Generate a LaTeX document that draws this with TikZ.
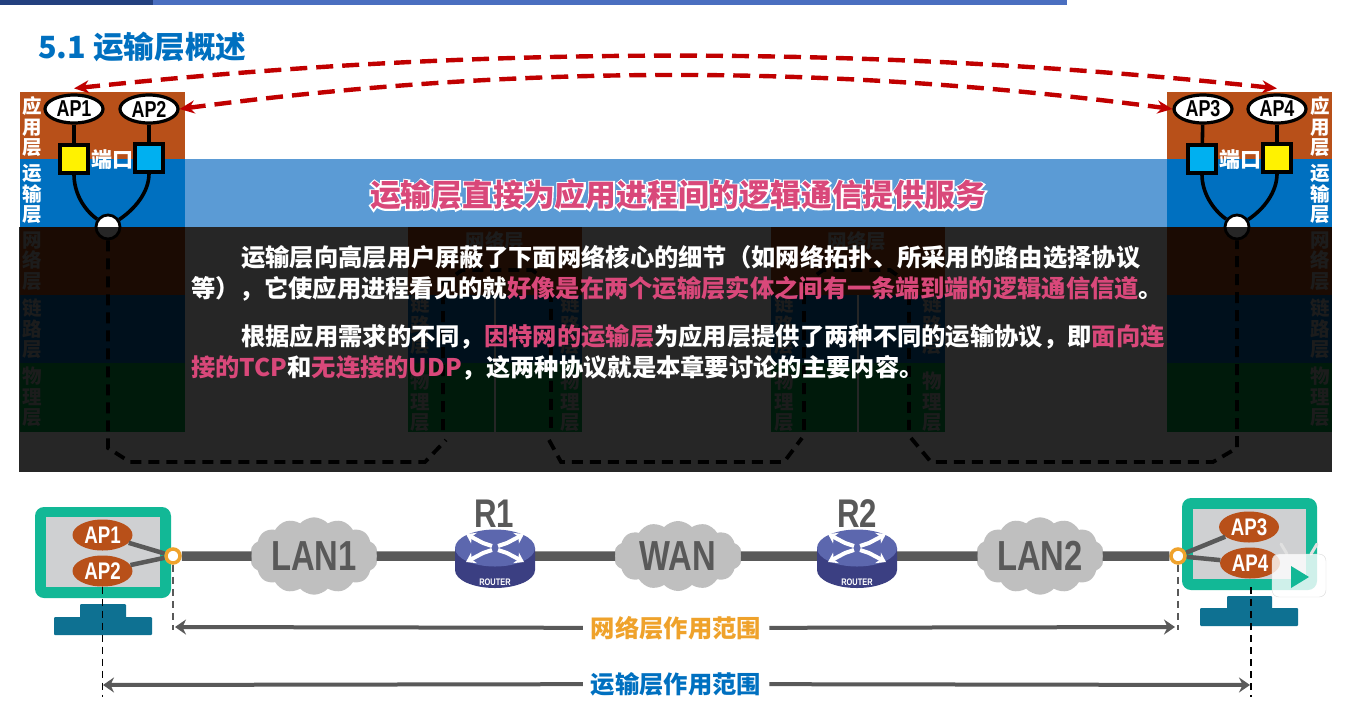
\documentclass[tikz,border=0pt]{standalone}
\usepackage{fontspec}
\usepackage{xcolor}
\usetikzlibrary{arrows.meta,shapes.geometric,shapes.symbols}
\setmainfont{Noto Sans CJK SC}
\newfontfamily\narrowfont[FakeStretch=0.78]{Liberation Sans}
\definecolor{appbrown}{HTML}{B85019}
\definecolor{transblue}{HTML}{0070C0}
\definecolor{bandblue}{HTML}{5B9BD5}
\definecolor{physgreen}{HTML}{00B050}
\definecolor{lightblue}{HTML}{00B0F0}
\definecolor{keypink}{HTML}{D9487A}
\definecolor{dashred}{HTML}{C00000}
\definecolor{hostgreen}{HTML}{12B896}
\definecolor{screengrey}{HTML}{CFD0D2}
\definecolor{standblue}{HTML}{0E7192}
\definecolor{linegrey}{HTML}{595959}
\definecolor{cloudgrey}{HTML}{BFBFBF}
\definecolor{rtop}{HTML}{5C67AE}
\definecolor{rside}{HTML}{3B3F82}
\definecolor{scopeorange}{HTML}{EFA22B}
\definecolor{bardark}{HTML}{23407F}
\definecolor{barblue}{HTML}{4A6FC0}
\newcommand\txtsize[2]{\fontsize{#1}{#2}\selectfont}
\newcommand\halotext[1]{\rlap{\special{pdf:code 1 Tr 3 w 1 1 1 RG}#1\special{pdf:code 0 Tr}}#1}

\begin{document}
\begin{tikzpicture}[x=1pt, y=-1pt, >=stealth,
  stacklabel/.style={text=white, align=center, inner sep=0, font=\bfseries\txtsize{19.5}{20.5}},
  dimlabel/.style={stacklabel, text=white!75!black},
  apnode/.style={draw, ellipse, fill=white, line width=3.2pt, minimum width=58, minimum height=28, inner sep=0, font=\narrowfont\bfseries\txtsize{23}{23}},
  portbox/.style={draw, line width=3.2pt, minimum size=28, inner sep=0},
  hubnode/.style={draw, circle, fill=white, line width=2.8pt, minimum size=24, inner sep=0},
  wire/.style={line width=3.6pt},
  pathdash/.style={line width=3.8pt, dash pattern=on 11pt off 7pt},
  reddash/.style={dashred, line width=4.4pt, dash pattern=on 17pt off 9pt, {Stealth[length=15pt,width=13pt]}-{Stealth[length=15pt,width=13pt]}},
  hostap/.style={ellipse, fill=appbrown, text=white, minimum width=60, minimum height=31, inner sep=0, font=\narrowfont\bfseries\txtsize{24}{24}},
  portdot/.style={draw=scopeorange, circle, fill=white, line width=3.5pt, minimum size=14, inner sep=0},
  netcloud/.style={cloud, cloud puffs=14, cloud puff arc=95, aspect=1.8, fill=cloudgrey, text=linegrey, minimum width=128, minimum height=70, inner sep=0, font=\narrowfont\bfseries\txtsize{42}{42}},
  routerlabel/.style={text=linegrey, inner sep=0, font=\narrowfont\bfseries\txtsize{40}{40}},
  routerslot/.style={minimum width=80, minimum height=30, inner sep=0},
  backbone/.style={linegrey, line width=9.5pt},
  aplink/.style={linegrey, line width=4.5pt},
  scopeline/.style={linegrey, line width=4pt, -{Stealth[length=11pt,width=15pt]}},
  scopelabel/.style={inner sep=8pt, font=\bfseries\txtsize{24.3}{24.3}},
  rangedash/.style={line width=1.8pt, dash pattern=on 7pt off 5pt},
  bodytext/.style={text=white, align=left, inner sep=0, font=\bfseries\txtsize{24.3}{31}},
  routerpic/.pic={
    \fill[rside] (-40,-8) -- (-40,14) arc[start angle=180, end angle=360, x radius=40pt, y radius=18pt] -- (40,-8) -- cycle;
    \fill[rtop] (0,-8) ellipse[x radius=40pt, y radius=18.5pt];
    \foreach \sx/\sy in {-1/-1, 1/-1, -1/1, 1/1}
      \draw[white, line width=4pt, -{Stealth[length=9pt,width=12pt]}] (\sx*3,-8+\sy*2) -- (\sx*12,-8+\sy*5) -- (\sx*29,-8+\sy*14);
    \node[text=white, inner sep=0, font=\narrowfont\bfseries\txtsize{9.5}{9.5}] (-tag) at (0,26) {ROUTER};
  }]
  \useasboundingbox (0,0) rectangle (1364,710);
  \fill[white] (0,0) rectangle (1364,710);
  \fill[bardark] (0,0) rectangle (153,5);
  \fill[barblue] (153,0) rectangle (1067,5);
  \node[anchor=west, text=transblue, inner sep=0, font=\bfseries\txtsize{30.6}{30.6}] (heading) at (38,47) {5.1 运输层概述};

  \fill[bandblue] (185,159) rectangle (1167,227);
  \foreach \xa/\xb in {20/185, 1167/1332} {
    \fill[appbrown] (\xa,92) rectangle (\xb,159);
    \fill[transblue] (\xa,159) rectangle (\xb,227);
    \fill[appbrown] (\xa,227) rectangle (\xb,295);
    \fill[transblue] (\xa,295) rectangle (\xb,363);
    \fill[physgreen] (\xa,363) rectangle (\xb,432);
  }
  \foreach \xa/\xb in {408/582, 771/945}
    \fill[appbrown] (\xa,227) rectangle (\xb,295);
  \foreach \xa/\xb in {408/494, 496/582, 771/857, 859/945} {
    \fill[transblue] (\xa,295) rectangle (\xb,363);
    \fill[physgreen] (\xa,363) rectangle (\xb,432);
  }
  \foreach \lx/\nm in {32/l, 1320/r} {
    \node[stacklabel] (app\nm) at (\lx,127) {应\\用\\层};
    \node[stacklabel] (trans\nm) at (\lx,194) {运\\输\\层};
    \node[dimlabel] (net\nm) at (\lx,261) {网\\络\\层};
    \node[dimlabel] (link\nm) at (\lx,329) {链\\路\\层};
    \node[dimlabel] (phys\nm) at (\lx,397) {物\\理\\层};
  }
  \foreach \lx/\nm in {420/a, 570/b, 784/c, 932/d} {
    \node[dimlabel] (link\nm) at (\lx,325) {链\\路\\层};
    \node[dimlabel] (phys\nm) at (\lx,402) {物\\理\\层};
  }
  \node[dimlabel] (netmidl) at (495,241) {网络层};
  \node[dimlabel] (netmidr) at (857,241) {网络层};

  \node[apnode] (ap1) at (74,109) {AP1};
  \node[apnode] (ap2) at (149,109) {AP2};
  \node[apnode] (ap3) at (1203,109) {AP3};
  \node[apnode] (ap4) at (1277,109) {AP4};
  \node[portbox, fill=yellow] (port1) at (74,159) {};
  \node[portbox, fill=lightblue] (port2) at (149,158) {};
  \node[portbox, fill=lightblue] (port3) at (1202,159) {};
  \node[portbox, fill=yellow] (port4) at (1277,158) {};
  \node[hubnode] (hubl) at (108,227) {};
  \node[hubnode] (hubr) at (1237,227) {};
  \draw[wire] (ap1) -- (port1);
  \draw[wire] (ap2) -- (port2);
  \draw[wire] (ap3) -- (port3);
  \draw[wire] (ap4) -- (port4);
  \draw[wire] (port1.south) .. controls (74,192) and (83,209) .. (hubl);
  \draw[wire] (port2.south) .. controls (149,192) and (135,209) .. (hubl);
  \draw[wire] (port3.south) .. controls (1202,192) and (1212,209) .. (hubr);
  \draw[wire] (port4.south) .. controls (1277,192) and (1264,209) .. (hubr);
  \node[text=white, inner sep=0, font=\bfseries\txtsize{21}{21}] (portl) at (112,160) {端口};
  \node[text=white, inner sep=0, font=\bfseries\txtsize{21}{21}] (portr) at (1240,160) {端口};

  \draw[pathdash] (hubl) -- (108,448) -- (130,462) -- (425,462) -- (446,440);
  \draw[pathdash] (443,430) -- (443,284) -- (462,270) -- (532,270) -- (551,284) -- (551,430);
  \draw[pathdash] (549,440) -- (561,462) -- (784,462) -- (802,438);
  \draw[pathdash] (804,430) -- (804,284) -- (823,270) -- (890,270) -- (909,284) -- (909,430);
  \draw[pathdash] (911,438) -- (931,462) -- (1213,462) -- (1237,448) -- (hubr);

  \fill[black, opacity=0.85] (19,227) rectangle (1332,472);
  \draw[reddash] (ap1.north) ++(0,-5) .. controls (480,45) and (870,45) .. ([yshift=5]ap4.north);
  \draw[reddash] (ap2.east) .. controls (520,64) and (830,64) .. (ap3.west);

  \node[text=keypink, inner sep=0, font=\bfseries\txtsize{30.8}{30.8}] (bandtitle) at (678,195) {\halotext{运输层直接为应用进程间的逻辑通信提供服务}};
  \node[bodytext, anchor=north west] (para1) at (191,245) {\hspace*{50pt}运输层向高层用户屏蔽了下面网络核心的细节（如网络拓扑、所采用的路由选择协议\\等），它使应用进程看见的就\textcolor{keypink}{好像是在两个运输层实体之间有一条端到端的逻辑通信信道}。};
  \node[bodytext, anchor=north west] (para2) at (191,324) {\hspace*{50pt}根据应用需求的不同，\textcolor{keypink}{因特网的运输层}为应用层提供了两种不同的运输协议，即\textcolor{keypink}{面向连}\\\textcolor{keypink}{接的TCP}和\textcolor{keypink}{无连接的UDP}，这两种协议就是本章要讨论的主要内容。};

  \fill[standblue, rounded corners=1pt] (80,604) rectangle (126,620);
  \fill[standblue, rounded corners=1pt] (54,617) rectangle (152,635);
  \fill[standblue, rounded corners=1pt] (1227,596) rectangle (1272,611);
  \fill[standblue, rounded corners=1pt] (1200,608) rectangle (1298,626);
  \fill[hostgreen, rounded corners=9pt] (35,507) rectangle (171,598);
  \fill[screengrey] (46,517) rectangle (160,587);
  \fill[hostgreen, rounded corners=9pt] (1182,498) rectangle (1317,590);
  \fill[screengrey] (1193,509) rectangle (1306,579);

  \node[hostap] (hostap1) at (102.5,535) {AP1};
  \node[hostap] (hostap2) at (102.5,571) {AP2};
  \node[hostap] (hostap3) at (1249,527) {AP3};
  \node[hostap] (hostap4) at (1250,563) {AP4};
  \node[netcloud] (lan1) at (314,556) {LAN1};
  \node[netcloud] (wan) at (678,556) {WAN};
  \node[netcloud] (lan2) at (1040,556) {LAN2};
  \node[routerslot] (r1) at (495,556) {};
  \node[routerslot] (r2) at (857,556) {};
  \node[portdot] (dotl) at (173,556) {};
  \node[portdot] (dotr) at (1178,556) {};
  \node[routerlabel] (r1label) at (494,514) {R1};
  \node[routerlabel] (r2label) at (857,514) {R2};
  \draw[backbone] (dotl) -- (lan1);
  \draw[backbone] (lan1) -- (r1);
  \draw[backbone] (r1) -- (wan);
  \draw[backbone] (wan) -- (r2);
  \draw[backbone] (r2) -- (lan2);
  \draw[backbone] (lan2) -- (dotr);
  \draw[aplink] (hostap1) -- (dotl);
  \draw[aplink] (hostap2) -- (dotl);
  \draw[aplink] (hostap3) -- (dotr);
  \draw[aplink] (hostap4) -- (dotr);
  \pic (r1icon) at (495,556) {routerpic};
  \pic (r2icon) at (857,556) {routerpic};

  \coordinate (netl) at (175,627);
  \coordinate (netr) at (1175,627);
  \coordinate (transl) at (103,685);
  \coordinate (transr) at (1250,685);
  \node[scopelabel, text=scopeorange] (netscope) at (676,628) {网络层作用范围};
  \node[scopelabel, text=transblue] (transscope) at (676,684) {运输层作用范围};
  \draw[scopeline] (netscope) -- (netl);
  \draw[scopeline] (netscope) -- (netr);
  \draw[scopeline] (transscope) -- (transl);
  \draw[scopeline] (transscope) -- (transr);
  \draw[linegrey, rangedash] (dotl) -- (173,630);
  \draw[linegrey, rangedash] (dotr) -- (1178,630);
  \draw[black, rangedash] (hostap2) -- (102.5,697);
  \draw[black, rangedash] (hostap4) ++(1,24) -- (1251,697);

  \draw[white!88!black, line width=3pt, line cap=round] (1287,554) -- (1281,544);
  \draw[white!88!black, line width=3pt, line cap=round] (1311,554) -- (1317,544);
  \fill[white, opacity=0.8, rounded corners=7pt] (1272,554) rectangle (1326,597);
  \draw[black!15, rounded corners=7pt] (1272,554) rectangle (1326,597);
  \fill[hostgreen] (1291,566) -- (1309,577) -- (1291,588) -- cycle;
\end{tikzpicture}
\end{document}
